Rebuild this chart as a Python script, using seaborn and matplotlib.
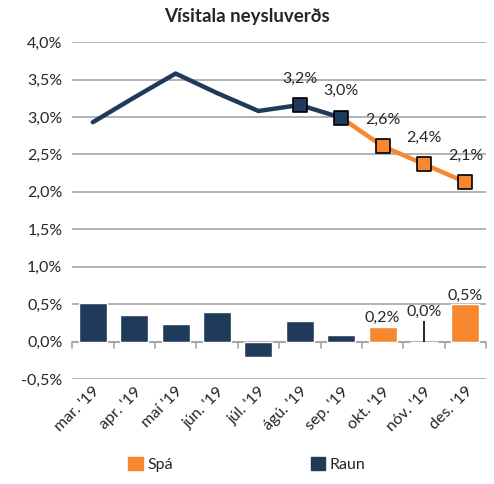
import matplotlib
matplotlib.use("Agg")
import matplotlib.pyplot as plt
import matplotlib.patches as mpatches
import numpy as np
import pandas as pd
import seaborn as sns

# data
months = ["mar. '19", "apr. '19", "maí '19", "jún. '19", "júl. '19",
          "ágú. '19", "sep. '19", "okt. '19", "nóv. '19", "des. '19"]
monthly_change = [0.52, 0.36, 0.23, 0.39, -0.20, 0.28, 0.09, 0.20, 0.0, 0.50]
bar_kind = ["Raun"] * 7 + ["Spá"] * 3
annual_actual = [2.93, 3.26, 3.58, 3.32, 3.08, 3.16, 2.99]
annual_forecast = [2.99, 2.61, 2.37, 2.13]
nov_stub = 0.28

NAVY = "#203A5C"
ORANGE = "#F7882F"
GRID = "#A6A6A6"

sns.set_theme(style="white")
plt.rcParams["font.family"] = ["Lato", "DejaVu Sans"]

fig = plt.figure(figsize=(4.94, 4.84), dpi=100)
ax = fig.add_axes([0.146, 0.217, 0.838, 0.696])

df = pd.DataFrame({"month": months, "change": monthly_change, "kind": bar_kind})
sns.barplot(data=df, x="month", y="change", hue="kind",
            palette={"Raun": NAVY, "Spá": ORANGE}, dodge=False, saturation=1,
            width=0.68, legend=False, ax=ax, zorder=2)

# thin black mark at nóv
ax.vlines(8, 0, nov_stub, color="black", lw=1.2, zorder=3)

# annual inflation lines
x_act = np.arange(len(annual_actual))
x_fc = np.arange(6, 6 + len(annual_forecast))
sns.lineplot(x=x_fc, y=annual_forecast, color=ORANGE, lw=3.2, ax=ax, zorder=4)
sns.lineplot(x=x_act, y=annual_actual, color=NAVY, lw=3.2, ax=ax, zorder=5)
ax.scatter(x_act[5:], annual_actual[5:], marker="s", s=95, color=NAVY,
           edgecolor="black", linewidth=1.2, zorder=6)
ax.scatter(x_fc[1:], annual_forecast[1:], marker="s", s=95, color=ORANGE,
           edgecolor="black", linewidth=1.2, zorder=6)

# labels
line_x = [5, 6, 7, 8, 9]
line_vals = [annual_actual[5], annual_actual[6]] + annual_forecast[1:]
for xi, v in zip(line_x, line_vals):
    ax.annotate(f"{v:.1f}%".replace(".", ","), (xi, v), xytext=(0, 14),
                textcoords="offset points", ha="center", va="bottom", fontsize=11.5)
for xi in [7, 8, 9]:
    v = monthly_change[xi]
    top = max(v, nov_stub if xi == 8 else v)
    ax.annotate(f"{v:.1f}%".replace(".", ","), (xi, top), xytext=(0, 1),
                textcoords="offset points", ha="center", va="bottom", fontsize=11.5)

ax.set_ylim(-0.5, 4.0)
ax.set_xlim(-0.5, 9.5)
yt = np.arange(-0.5, 4.01, 0.5)
ax.set_yticks(yt)
ax.set_yticklabels([f"{t:.1f}%".replace(".", ",") for t in yt], fontsize=11.5)
ax.yaxis.grid(True, color=GRID, lw=1.2, zorder=0)
ax.set_axisbelow(True)
ax.tick_params(axis="y", length=0, pad=7)

ax.set_xticks(range(len(months)))
ax.set_xticklabels(months, rotation=45, ha="right", rotation_mode="anchor", fontsize=11.5)
ax.tick_params(axis="x", length=0, pad=4)
# category boundary ticks on the zero line
for b in np.arange(-0.5, 9.6, 1):
    ax.plot([b, b], [0, -0.08], color=GRID, lw=1.2, zorder=1, clip_on=False)
ax.axhline(0, color=GRID, lw=1.5, zorder=1)

ax.set_xlabel("")
ax.set_ylabel("")
for s in ax.spines.values():
    s.set_visible(False)

fig.text(0.5, 0.955, "Vísitala neysluverðs", ha="center", fontsize=13.5, fontweight="bold")

handles = [mpatches.Patch(color=ORANGE, label="Spá"),
           mpatches.Patch(color=NAVY, label="Raun")]
fig.legend(handles=handles, loc="center", bbox_to_anchor=(0.5, 0.04), ncol=2,
           frameon=False, fontsize=11.5, handlelength=0.9, handleheight=0.9,
           columnspacing=8.6, handletextpad=0.3)

fig.savefig("out.png", dpi=100)
